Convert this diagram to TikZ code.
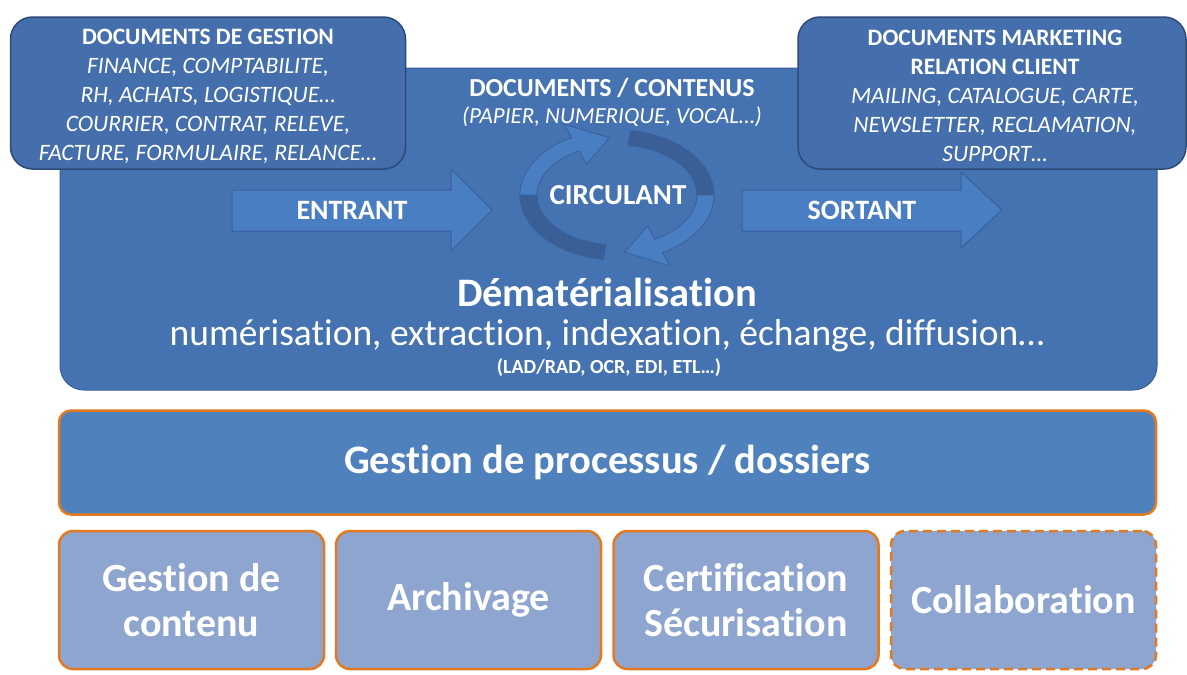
\documentclass[tikz,border=0pt]{standalone}
\usepackage{fontspec}
\setmainfont{Carlito}[Ligatures=NoCommon]
\definecolor{mainfill}{RGB}{69,114,176}
\definecolor{mainline}{RGB}{58,95,150}
\definecolor{callfill}{RGB}{68,111,172}
\definecolor{callline}{RGB}{45,75,122}
\definecolor{arrfill}{RGB}{74,126,194}
\definecolor{arrline}{RGB}{56,96,156}
\definecolor{banddark}{RGB}{58,95,150}
\definecolor{procfill}{RGB}{79,129,189}
\definecolor{boxfill}{RGB}{142,165,208}
\definecolor{orangeline}{RGB}{228,122,32}
\tikzset{
  mainbox/.style={draw=mainline, line width=1pt, fill=mainfill, rounded corners=24pt, inner sep=0pt},
  callbox/.style={draw=callline, line width=1.5pt, fill=callfill, rounded corners=22pt, inner sep=0pt, align=center, text=white, font=\fontsize{23.5}{29}\selectfont},
  flowarrow/.style={draw=arrline, line width=1pt, fill=arrfill},
  circarrow/.style={draw=arrline, line width=0.8pt, fill=arrfill},
  darkband/.style={draw=arrline, line width=0.8pt, fill=banddark},
  lbl/.style={text=white, inner sep=0pt, align=center},
  procbox/.style={draw=orangeline, line width=2.5pt, fill=procfill, rounded corners=12pt, text=white, font=\bfseries\fontsize{40.5}{46}\selectfont},
  subbox/.style={draw=orangeline, line width=2.5pt, fill=boxfill, rounded corners=14pt, text=white, align=center, font=\bfseries\fontsize{40}{45}\selectfont, minimum width=265pt, minimum height=138pt},
}
\begin{document}
\begin{tikzpicture}[x=1pt,y=-1pt]
\useasboundingbox (0,0) rectangle (1187,675);
% main area
\node[mainbox, minimum width=1097pt, minimum height=322pt] (main) at (608.5,229) {};
% callouts
\node[callbox, minimum width=395pt, minimum height=152pt] (cg) at (208,93) {};
\node[lbl, font=\fontsize{23.5}{29}\selectfont] (cgt) at (208,96)
  {\textbf{DOCUMENTS DE GESTION}\\ \textit{FINANCE, COMPTABILITE,}\\ \textit{RH, ACHATS, LOGISTIQUE\dots}\\ \textit{COURRIER, CONTRAT, RELEVE,}\\ \textit{FACTURE, FORMULAIRE, RELANCE\dots}};
\node[callbox, minimum width=388pt, minimum height=152pt] (cm) at (992,93) {};
\node[lbl, font=\fontsize{23.5}{29}\selectfont] (cmt) at (995,96)
  {\textbf{DOCUMENTS MARKETING}\\ \textbf{RELATION CLIENT}\\ \textit{MAILING, CATALOGUE, CARTE,}\\ \textit{NEWSLETTER, RECLAMATION,}\\ \textit{SUPPORT\dots}};
% flow arrows
\draw[flowarrow] (232,190) -- (451,190) -- (451,169) -- (492,210) -- (451,251) -- (451,231) -- (232,231) -- cycle;
\draw[flowarrow] (742,190) -- (961,190) -- (961,172) -- (1002,210) -- (961,248) -- (961,231) -- (742,231) -- cycle;
\node[lbl, font=\bfseries\fontsize{28}{30}\selectfont] (ent) at (352,210) {ENTRANT};
\node[lbl, font=\bfseries\fontsize{28}{30}\selectfont] (sor) at (862,210) {SORTANT};
% circular arrows
\filldraw[darkband] plot[domain=82:-10,samples=40] ({617+97*cos(\x)},{195-65*sin(\x)}) -- plot[domain=-10:82,samples=40] ({617+80*cos(\x)},{195-50*sin(\x)}) -- cycle;
\filldraw[darkband] plot[domain=-98:-190,samples=40] ({617+97*cos(\x)},{195-65*sin(\x)}) -- plot[domain=-190:-98,samples=40] ({617+80*cos(\x)},{195-50*sin(\x)}) -- cycle;
\filldraw[circarrow] plot[domain=180:118,samples=40] ({617+97*cos(\x)},{195-65*sin(\x)}) -- ({617+112*cos(118)},{195-80*sin(118)}) -- ({617+88.5*cos(95)},{195-57.5*sin(95)}) -- ({617+65*cos(118)},{195-35*sin(118)}) -- plot[domain=118:180,samples=40] ({617+80*cos(\x)},{195-50*sin(\x)}) -- cycle;
\filldraw[circarrow] plot[domain=0:-62,samples=40] ({617+97*cos(\x)},{195-65*sin(\x)}) -- ({617+112*cos(-62)},{195-80*sin(-62)}) -- ({617+88.5*cos(-85)},{195-57.5*sin(-85)}) -- ({617+65*cos(-62)},{195-35*sin(-62)}) -- plot[domain=-62:0,samples=40] ({617+80*cos(\x)},{195-50*sin(\x)}) -- cycle;
\node[lbl, font=\bfseries\fontsize{29}{30}\selectfont] (circ) at (618,195) {CIRCULANT};
% titles
\node[lbl, font=\bfseries\fontsize{26}{28}\selectfont] (doc) at (612,88) {DOCUMENTS / CONTENUS};
\node[lbl, font=\itshape\fontsize{23}{26}\selectfont] (docsub) at (612,117) {(PAPIER, NUMERIQUE, VOCAL\dots)};
\node[lbl, font=\bfseries\fontsize{40.5}{44}\selectfont] (demat) at (607,292) {Dématérialisation};
\node[lbl, font=\fontsize{37.5}{40}\selectfont] (list) at (607,336) {numérisation, extraction, indexation, échange, diffusion\dots};
\node[lbl, font=\bfseries\fontsize{20}{22}\selectfont] (tech) at (609,368) {(LAD/RAD, OCR, EDI, ETL\dots)};
% process
\node[procbox, minimum width=1097pt, minimum height=104pt] (proc) at (607.5,462.5) {Gestion de processus / dossiers};
% bottom boxes
\node[subbox] (gc) at (191.5,600) {Gestion de\\contenu};
\node[subbox] (ar) at (468.5,600) {Archivage};
\node[subbox] (ce) at (746,600) {Certification\\Sécurisation};
\node[subbox, dashed, dash pattern=on 9pt off 5pt] (co) at (1023.5,600) {Collaboration};
\end{tikzpicture}
\end{document}
